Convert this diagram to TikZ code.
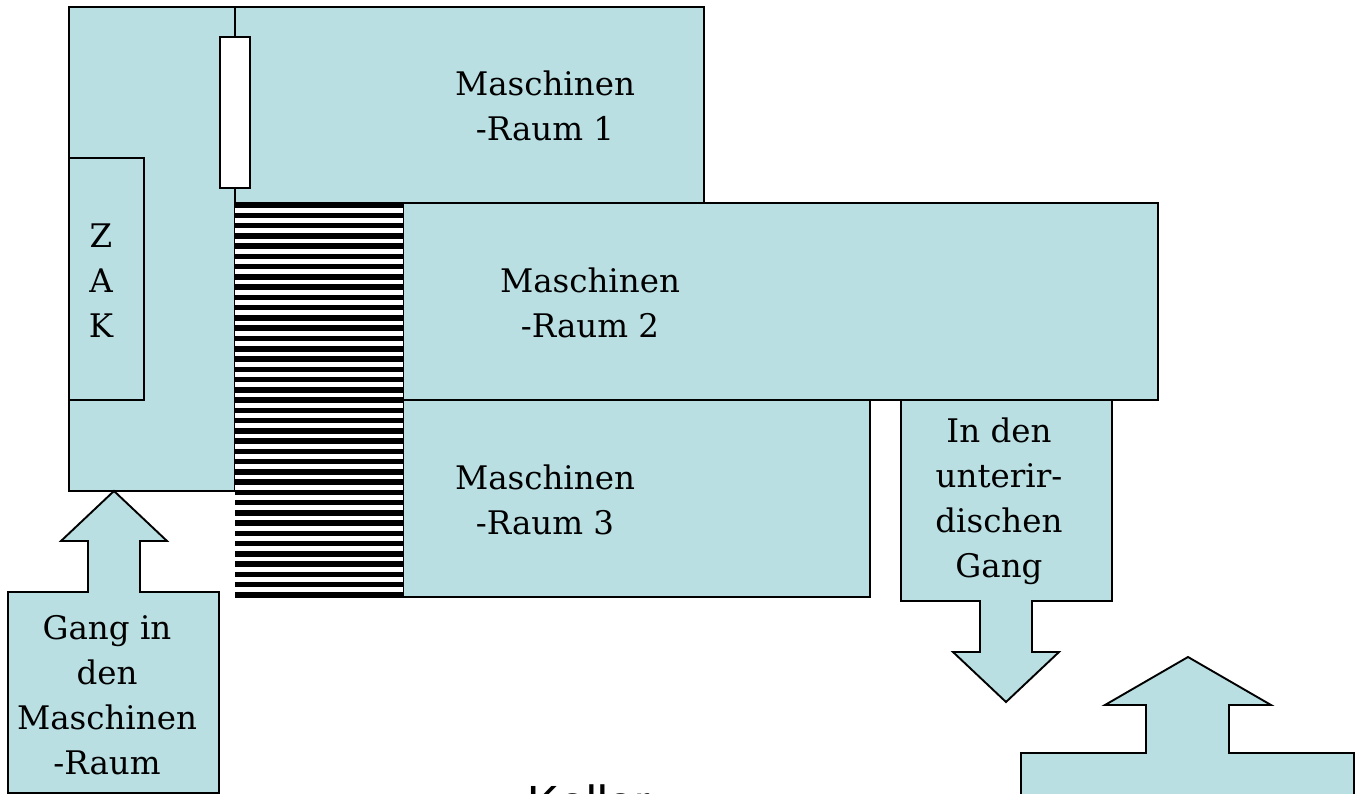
\documentclass[tikz,border=0pt]{standalone}
\usepackage{fontspec}
\setmainfont{DejaVu Serif}
\setsansfont{Liberation Sans}
\usepackage{xcolor}
\definecolor{roomblue}{HTML}{B9DFE2}
\usetikzlibrary{positioning}
\begin{document}
\begin{tikzpicture}[x=1pt,y=-1pt]
	\tikzstyle{RoomStyle}  = [draw, line width=1.9pt, fill=roomblue, line join=miter]
	\tikzstyle{LabelStyle} = [align=center, font=\fontsize{32.5}{45}\selectfont, inner sep=0pt]
	\useasboundingbox (0,0) rectangle (1368,794);
	\clip (0,0) rectangle (1368,794);
	% rooms
	\draw[RoomStyle] (69,7) rectangle (235,491);
	\draw[RoomStyle] (235,7) rectangle (704,203);
	\draw[RoomStyle] (403,203) rectangle (1158,400);
	\draw[RoomStyle] (403,400) rectangle (870,597);
	\draw[RoomStyle] (69,158) rectangle (144,400);
	\draw[RoomStyle, fill=white] (220,37) rectangle (250,188);
	% stairs
	\fill[white] (235,203) rectangle (403,597);
	\foreach \y in {0,...,38}
		\fill[black] (235,202.5+10.25*\y) rectangle (403,202.5+10.25*\y+5.5);
	% arrows
	\draw[RoomStyle] (114,491) -- (167,541) -- (140,541) -- (140,592) -- (219,592) -- (219,793)
		-- (8,793) -- (8,592) -- (88,592) -- (88,541) -- (61,541) -- cycle;
	\draw[RoomStyle] (901,400) -- (1112,400) -- (1112,601) -- (1032,601) -- (1032,652) -- (1059,652)
		-- (1006,702) -- (953,652) -- (980,652) -- (980,601) -- (901,601) -- cycle;
	\draw[RoomStyle] (1188,657) -- (1271,705) -- (1229,705) -- (1229,753) -- (1354,753) -- (1354,800)
		-- (1021,800) -- (1021,753) -- (1146,753) -- (1146,705) -- (1105,705) -- cycle;
	% labels
	\node[LabelStyle] (raum1) at (545,106) {Maschinen\\-Raum 1};
	\node[LabelStyle] (raum2) at (590,303) {Maschinen\\-Raum 2};
	\node[LabelStyle] (raum3) at (545,500) {Maschinen\\-Raum 3};
	\node[LabelStyle] (zak) at (101,281) {Z\\A\\K};
	\node[LabelStyle] (gangin) at (107,695) {Gang in\\den\\Maschinen\\-Raum};
	\node[LabelStyle] (gangunter) at (999,501) {In den\\unterir-\\dischen\\Gang};
	\node[font=\sffamily\fontsize{48}{48}\selectfont, inner sep=0pt, anchor=base] (keller) at (589,819) {Keller};
\end{tikzpicture}
\end{document}
